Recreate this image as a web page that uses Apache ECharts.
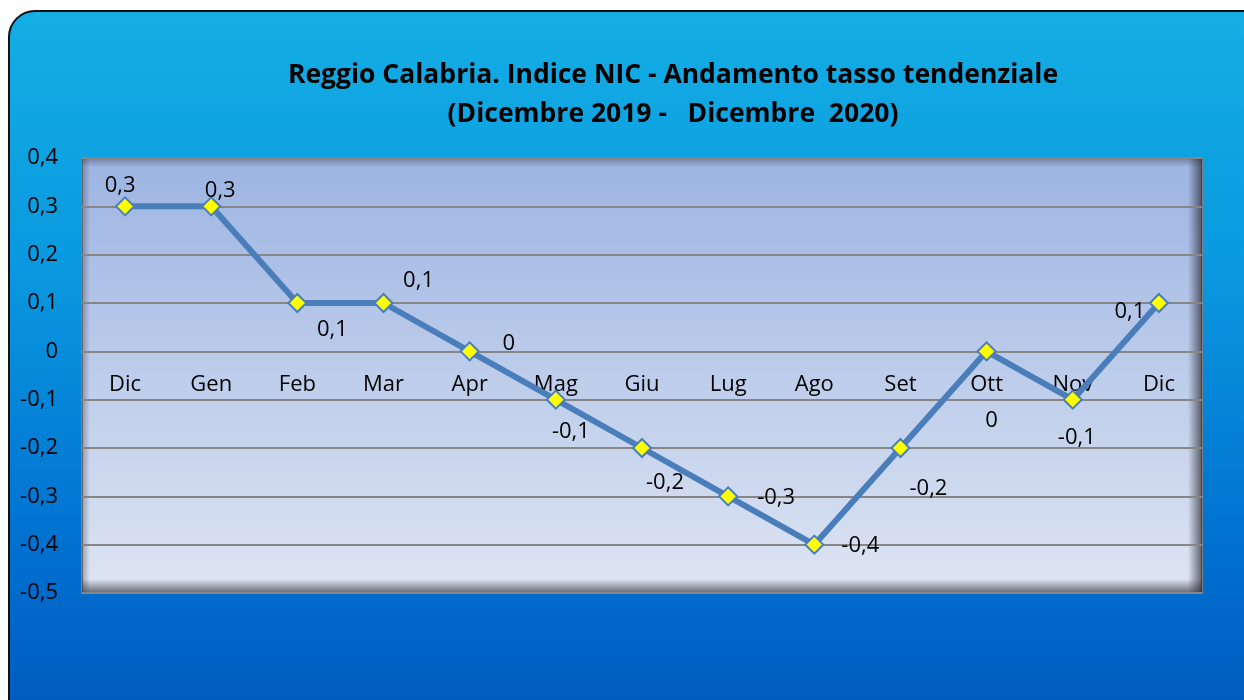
<!DOCTYPE html>
<html>
<head>
<meta charset="utf-8">
<script src="https://cdn.jsdelivr.net/npm/echarts@6/dist/echarts.min.js"></script>
<style>
html,body{margin:0;padding:0;background:#ffffff;}
#chart{width:1244px;height:700px;}
</style>
</head>
<body>
<div id="chart"></div>
<script>
const categories = ['Dic','Gen','Feb','Mar','Apr','Mag','Giu','Lug','Ago','Set','Ott','Nov','Dic'];
const values = [0.3, 0.3, 0.1, 0.1, 0, -0.1, -0.2, -0.3, -0.4, -0.2, 0, -0.1, 0.1];
const yMin = -0.5, yMax = 0.4, yStep = 0.1;
const titleLines = ['Reggio Calabria. Indice NIC - Andamento tasso tendenziale', '(Dicembre 2019 -   Dicembre  2020)'];
// label offsets (styling only) relative to each point
const labelOffsets = [[-5,-21],[9,-16],[35,27],[35,-22],[39,-8],[15,32],[23,35],[48,1],[46,1],[28,41],[5,69],[4,38],[-29,9]];

const FONT = '"Open Sans", Lato, sans-serif';
function fmt(v){ const r = Math.round(v*10)/10; return (r === 0 ? '0' : String(r)).replace('.', ','); }

const chart = echarts.init(document.getElementById('chart'), null, {renderer:'canvas'});
const G = {l:82, t:158, r:1202, b:593};
const option = {
  animation:false,
  backgroundColor:'#ffffff',
  graphic:[
    {type:'rect', z:-10, shape:{x:9, y:11, width:1260, height:720, r:26},
     style:{fill:new echarts.graphic.LinearGradient(0,0,0,1,[
       {offset:0,color:'#14AEE4'},{offset:0.35,color:'#0A99E0'},{offset:0.75,color:'#0070D0'},{offset:1,color:'#0059BC'}]),
       stroke:'#111111', lineWidth:2}},
    {type:'text', z:10, x:673, y:75, style:{text:titleLines[0], fill:'#000', font:'bold 26.5px '+FONT, textAlign:'center', textVerticalAlign:'middle'}},
    {type:'text', z:10, x:673, y:114, style:{text:titleLines[1], fill:'#000', font:'bold 26.5px '+FONT, textAlign:'center', textVerticalAlign:'middle'}},
    // inner shadows of plot area
    {type:'rect', z:-1, silent:true, shape:{x:G.l, y:G.t, width:G.r-G.l, height:9},
     style:{fill:new echarts.graphic.LinearGradient(0,0,0,1,[{offset:0,color:'rgba(60,60,80,0.45)'},{offset:1,color:'rgba(60,60,80,0)'}])}},
    {type:'rect', z:-1, silent:true, shape:{x:G.l, y:G.t, width:8, height:G.b-G.t},
     style:{fill:new echarts.graphic.LinearGradient(0,0,1,0,[{offset:0,color:'rgba(60,60,80,0.4)'},{offset:1,color:'rgba(60,60,80,0)'}])}},
    {type:'rect', z:-1, silent:true, shape:{x:G.r-14, y:G.t, width:14, height:G.b-G.t},
     style:{fill:new echarts.graphic.LinearGradient(0,0,1,0,[{offset:0,color:'rgba(40,40,50,0)'},{offset:1,color:'rgba(40,40,50,0.7)'}])}},
    {type:'rect', z:-1, silent:true, shape:{x:G.l, y:G.b-14, width:G.r-G.l, height:14},
     style:{fill:new echarts.graphic.LinearGradient(0,0,0,1,[{offset:0,color:'rgba(40,40,50,0)'},{offset:1,color:'rgba(40,40,50,0.65)'}])}}
  ],
  grid:{left:G.l, top:G.t, right:1244-G.r, bottom:700-G.b, show:true,
    backgroundColor:new echarts.graphic.LinearGradient(0,0,0,1,[{offset:0,color:'#9CB4E2'},{offset:1,color:'#DEE5F3'}]),
    borderColor:'#7F7F7F', borderWidth:2, z:-5},
  xAxis:{type:'category', data:categories, boundaryGap:true, offset:0,
    axisLine:{show:true, onZero:false, lineStyle:{color:'#868686', width:2}},
    axisTick:{show:false},
    axisLabel:{color:'#000', fontSize:22, fontFamily:FONT, margin:22, interval:0},
    splitLine:{show:false}},
  yAxis:{type:'value', min:yMin, max:yMax, interval:yStep,
    axisLine:{show:false}, axisTick:{show:false},
    axisLabel:{color:'#000', fontSize:22, fontFamily:FONT, margin:24, formatter:fmt},
    splitLine:{show:true, lineStyle:{color:'#868686', width:2}}},
  series:[{
    type:'line', z:5,
    data:values.map((v,i)=>({value:v, label:{offset:labelOffsets[i]}})),
    symbol:'diamond', symbolSize:18,
    lineStyle:{color:'#4A7EBB', width:6},
    itemStyle:{color:'#FFFF00', borderColor:'#4A7EBB', borderWidth:2},
    label:{show:true, position:'inside', color:'#000', fontSize:22, fontFamily:FONT, formatter:p=>fmt(p.value)}
  }]
};
chart.setOption(option);
// place the category axis on the zero line using the value axis scale
const zeroY = chart.convertToPixel({yAxisIndex:0}, 0);
const bottomY = chart.convertToPixel({yAxisIndex:0}, yMin);
chart.setOption({xAxis:{offset:-(bottomY - zeroY)}});
</script>
</body>
</html>
